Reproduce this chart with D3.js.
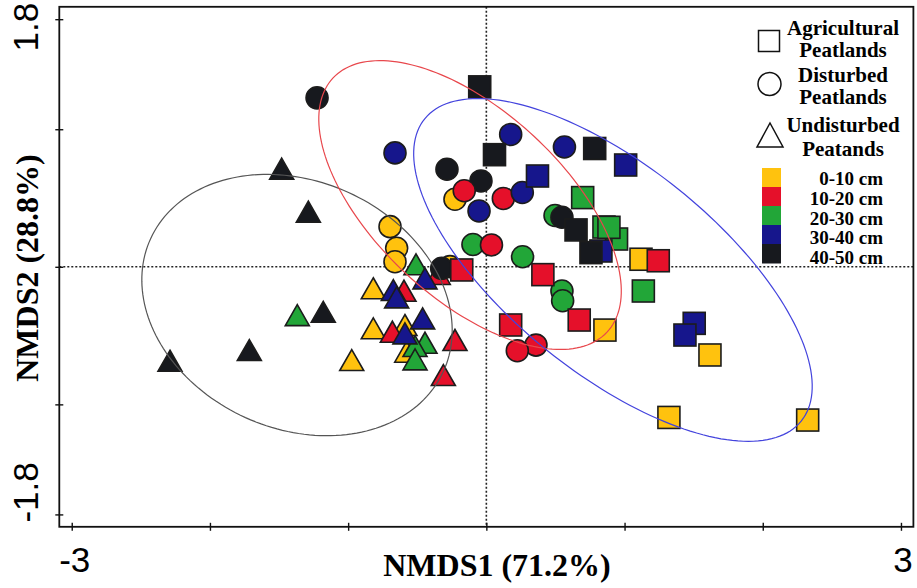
<!DOCTYPE html>
<html>
<head>
<meta charset="utf-8">
<script src="https://cdn.jsdelivr.net/npm/d3@7/dist/d3.min.js"></script>
<style>
  html, body { margin: 0; padding: 0; background: #fff; }
  svg { display: block; }
</style>
</head>
<body>
<svg id="chart" width="917" height="588"></svg>
<script>
// ---- data -------------------------------------------------------------
const depthLabels = ["0-10 cm", "10-20 cm", "20-30 cm", "30-40 cm", "40-50 cm"];
const depthColors = ["#FFC20E", "#E5102A", "#22A638", "#16168C", "#17191E"];
const siteLabels = [["Agricultural", "Peatlands"], ["Disturbed", "Peatlands"], ["Undisturbed", "Peatands"]];
const xTicks = [-3, -2, -1, 0, 1, 2, 3];
const yTicks = [-1.8, -1, 0, 1, 1.8];
const xTickLabels = ["-3", "", "", "", "", "", "3"];
const yTickLabels = ["-1.8", "", "", "", "1.8"];
const xTitle = "NMDS1 (71.2%)";
const yTitle = "NMDS2 (28.8%)";

// site scores: [NMDS1, NMDS2, depth index], listed in drawing order
const undisturbed = [
  [-1.481, 0.713, 4], [-1.288, 0.401, 4], [-2.289, -0.683, 4], [-1.715, -0.605, 4], [-1.180, -0.327, 4],
  [-0.974, -0.678, 0], [-0.818, -0.156, 0], [-0.818, -0.447, 0], [-0.589, -0.423, 0], [-0.576, -0.617, 0],
  [-1.368, -0.351, 2], [-0.509, 0.018, 2], [-0.444, -0.552, 2], [-0.516, -0.576, 2], [-0.516, -0.673, 2],
  [-0.596, -0.174, 1], [-0.348, -0.052, 1], [-0.680, -0.472, 1], [-0.227, -0.532, 1], [-0.311, -0.787, 1],
  [-0.673, -0.169, 3], [-0.649, -0.222, 3], [-0.444, -0.084, 3], [-0.461, -0.375, 3], [-0.589, -0.484, 3]
];
const disturbed = [
  [-0.697, 0.292, 0], [-0.649, 0.135, 0], [-0.661, 0.037, 0], [-0.227, 0.491, 0], [-0.263, 0.001, 0],
  [-0.097, 0.162, 2], [0.262, 0.073, 2], [0.497, 0.373, 2], [0.547, -0.176, 2], [0.552, -0.247, 2],
  [-1.225, 1.228, 4], [-0.285, 0.709, 4], [-0.039, 0.624, 4], [0.547, 0.360, 4], [-0.323, -0.011, 4],
  [-0.160, 0.553, 1], [0.123, 0.497, 1], [0.037, 0.159, 1], [0.359, -0.569, 1], [0.224, -0.610, 1],
  [-0.661, 0.828, 3], [0.176, 0.962, 3], [0.565, 0.871, 3], [0.260, 0.540, 3], [-0.053, 0.406, 3]
];
const agricultural = [
  [1.119, 0.055, 0], [0.858, -0.460, 0], [1.618, -0.641, 0], [1.321, -1.095, 0], [2.325, -1.114, 0],
  [-0.178, -0.023, 1], [0.409, -0.057, 1], [0.176, -0.423, 1], [0.672, -0.387, 1], [1.244, 0.044, 1],
  [0.697, 0.503, 2], [0.942, 0.202, 2], [0.851, 0.289, 2], [0.887, 0.287, 2], [1.136, -0.176, 2],
  [0.370, 0.660, 3], [1.008, 0.740, 3], [0.829, 0.115, 3], [1.504, -0.411, 3], [1.437, -0.496, 3],
  [-0.048, 1.308, 4], [0.059, 0.815, 4], [0.784, 0.860, 4], [0.649, 0.268, 4], [0.757, 0.103, 4]
];

// group ellipses: [centre NMDS1, centre NMDS2, semi-axis 1, semi-axis 2, rotation (deg)]
const ellipseUndisturbed = [-1.370, -0.278, 1.164, 0.899, -24.5];
const ellipseDisturbed = [-0.118, 0.449, 1.355, 0.681, -43];
const ellipseAgricultural = [0.916, -0.023, 1.750, 0.754, -38.9];
const ellipseColors = ["#555555", "#E8474C", "#4343DD"];

// ---- layout -----------------------------------------------------------
const svg = d3.select("#chart");
const plot = { left: 59.3, right: 913.4, top: 6.8, bottom: 526.8 };

const x = d3.scaleLinear().domain([-3.09, 3.09]).range([plot.left, plot.right]);
const y = d3.scaleLinear().domain([-1.89, 1.89]).range([plot.bottom, plot.top]);

const sansFont = "'Liberation Sans', Arial, sans-serif";
const serifFont = "'Liberation Serif', 'Times New Roman', serif";

// dotted zero lines
svg.append("line")
  .attr("x1", x(0)).attr("x2", x(0))
  .attr("y1", plot.top).attr("y2", plot.bottom)
  .attr("stroke", "#222").attr("stroke-width", 1.6).attr("stroke-dasharray", "2,2");
svg.append("line")
  .attr("x1", plot.left).attr("x2", plot.right)
  .attr("y1", y(0)).attr("y2", y(0))
  .attr("stroke", "#222").attr("stroke-width", 1.6).attr("stroke-dasharray", "2,2");

// ---- markers ----------------------------------------------------------
const markerStroke = "#1c1c1c";
const triPath = "M0,-10.5L12,10.5L-12,10.5Z";

svg.append("g").selectAll("path")
  .data(undisturbed).join("path")
  .attr("d", triPath)
  .attr("transform", d => `translate(${x(d[0])},${y(d[1])})`)
  .attr("fill", d => depthColors[d[2]])
  .attr("stroke", markerStroke).attr("stroke-width", 1.6).attr("stroke-linejoin", "miter");

svg.append("g").selectAll("circle")
  .data(disturbed).join("circle")
  .attr("cx", d => x(d[0])).attr("cy", d => y(d[1])).attr("r", 11)
  .attr("fill", d => depthColors[d[2]])
  .attr("stroke", markerStroke).attr("stroke-width", 1.6);

svg.append("g").selectAll("rect")
  .data(agricultural).join("rect")
  .attr("x", d => x(d[0]) - 11).attr("y", d => y(d[1]) - 11)
  .attr("width", 22).attr("height", 22)
  .attr("fill", d => depthColors[d[2]])
  .attr("stroke", markerStroke).attr("stroke-width", 1.6);

// ---- ellipses ---------------------------------------------------------
function ellipsePoints(e) {
  const [cx, cy, a, b, deg] = e;
  const t = deg * Math.PI / 180;
  return d3.range(0, 361, 2).map(k => {
    const s = k * Math.PI / 180;
    const u = a * Math.cos(s), v = b * Math.sin(s);
    return [cx + u * Math.cos(t) - v * Math.sin(t), cy + u * Math.sin(t) + v * Math.cos(t)];
  });
}
const ellipseLine = d3.line().x(p => x(p[0])).y(p => y(p[1])).curve(d3.curveLinearClosed);
[ellipseUndisturbed, ellipseDisturbed, ellipseAgricultural].forEach((e, i) => {
  svg.append("path")
    .attr("d", ellipseLine(ellipsePoints(e)))
    .attr("fill", "none")
    .attr("stroke", ellipseColors[i])
    .attr("stroke-width", 1.2);
});

// ---- axes -------------------------------------------------------------
const xAxis = d3.axisBottom(x).tickValues(xTicks).tickSize(4).tickFormat("");
svg.append("g")
  .attr("transform", `translate(0,${plot.bottom})`)
  .call(xAxis)
  .call(g => g.select(".domain").remove())
  .call(g => g.selectAll(".tick line").attr("y1", -4).attr("y2", 4)
    .attr("stroke", "#111").attr("stroke-width", 1.4));

const yAxis = d3.axisLeft(y).tickValues(yTicks).tickSize(4).tickFormat("");
svg.append("g")
  .attr("transform", `translate(${plot.left},0)`)
  .call(yAxis)
  .call(g => g.select(".domain").remove())
  .call(g => g.selectAll(".tick line").attr("x1", -4).attr("x2", 4)
    .attr("stroke", "#111").attr("stroke-width", 1.4));

// frame
svg.append("rect")
  .attr("x", plot.left).attr("y", plot.top)
  .attr("width", plot.right - plot.left).attr("height", plot.bottom - plot.top)
  .attr("fill", "none").attr("stroke", "#111").attr("stroke-width", 1.8);

// tick labels (end values only)
svg.append("g").selectAll("text")
  .data(xTicks.map((v, i) => [v, xTickLabels[i]]).filter(d => d[1]))
  .join("text")
  .attr("x", d => x(d[0]) + (d[0] < 0 ? 3 : 2))
  .attr("y", 572)
  .attr("text-anchor", "middle")
  .attr("font-family", sansFont).attr("font-size", 35)
  .text(d => d[1]);

svg.append("g").selectAll("text")
  .data(yTicks.map((v, i) => [v, yTickLabels[i]]).filter(d => d[1]))
  .join("text")
  .attr("transform", d => `translate(38,${y(d[0]) + (d[0] > 0 ? 8 : -22)}) rotate(-90)`)
  .attr("text-anchor", "middle")
  .attr("font-family", sansFont).attr("font-size", 35)
  .text(d => d[1]);

// axis titles
svg.append("text")
  .attr("x", 497).attr("y", 576)
  .attr("text-anchor", "middle")
  .attr("font-family", serifFont).attr("font-weight", "bold").attr("font-size", 32)
  .text(xTitle);
svg.append("text")
  .attr("transform", "translate(38,268) rotate(-90)")
  .attr("text-anchor", "middle")
  .attr("font-family", serifFont).attr("font-weight", "bold").attr("font-size", 32)
  .text(yTitle);

// ---- legend -----------------------------------------------------------
const legend = svg.append("g")
  .attr("font-family", serifFont).attr("font-weight", "bold");

legend.append("rect").attr("x", 758.5).attr("y", 30.5).attr("width", 21).attr("height", 21)
  .attr("fill", "#fff").attr("stroke", "#111").attr("stroke-width", 1.5);
legend.append("circle").attr("cx", 769.5).attr("cy", 84).attr("r", 11.5)
  .attr("fill", "#fff").attr("stroke", "#111").attr("stroke-width", 1.5);
legend.append("path").attr("d", "M770,123L783,147L757,147Z")
  .attr("fill", "#fff").attr("stroke", "#111").attr("stroke-width", 1.5);

const siteBaselines = [[35, 57], [82, 104], [132, 156]];
siteLabels.forEach((lines, i) => {
  lines.forEach((txt, j) => {
    legend.append("text")
      .attr("x", 843).attr("y", siteBaselines[i][j])
      .attr("text-anchor", "middle")
      .attr("font-size", 21)
      .text(txt);
  });
});

depthLabels.forEach((lab, i) => {
  legend.append("rect")
    .attr("x", 762).attr("y", 168 + i * 19)
    .attr("width", 19).attr("height", 19.5)
    .attr("fill", depthColors[i]);
  legend.append("text")
    .attr("x", 883).attr("y", 185 + i * 19.8)
    .attr("text-anchor", "end")
    .attr("font-size", 19)
    .text(lab);
});
</script>
</body>
</html>
